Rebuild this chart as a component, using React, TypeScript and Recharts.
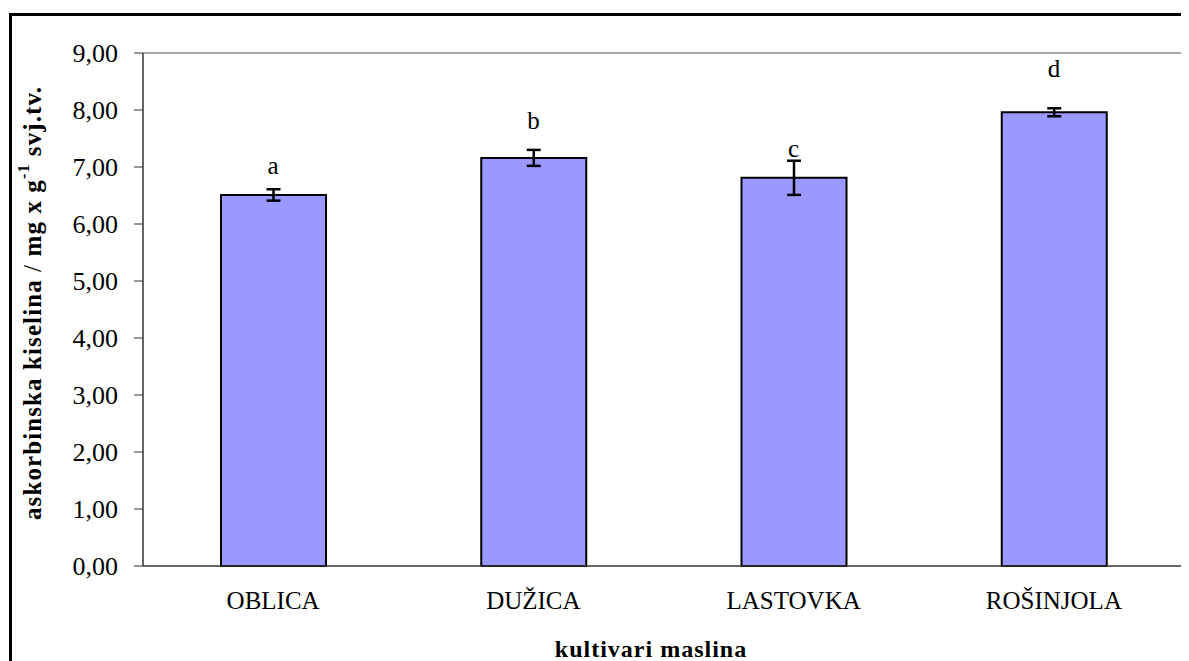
import React from "react";

import {
  Bar,
  ComposedChart,
  ErrorBar,
  LabelList,
  Line,
  ReferenceLine,
  XAxis,
  YAxis,
} from "recharts";

const cultivars = ["OBLICA", "DUŽICA", "LASTOVKA", "ROŠINJOLA"];
const ascorbicAcid = [6.51, 7.16, 6.81, 7.96];
const stdError = [0.1, 0.14, 0.3, 0.07];
const groupLetters = ["a", "b", "c", "d"];
const letterLevels = [7.03, 7.81, 7.32, 8.72];
const yTicks = [0, 1, 2, 3, 4, 5, 6, 7, 8, 9];
const boundaryTicks = [0, 1, 2, 3, 4];

const FONT = '"Liberation Serif", "Times New Roman", serif';

const data = cultivars.map((name, i) => ({
  name,
  value: ascorbicAcid[i],
  err: stdError[i],
  letter: groupLetters[i],
  letterAt: letterLevels[i],
}));

const LetterLabel = (props: any) => (
  <text
    x={props.x}
    y={props.y}
    textAnchor="middle"
    dominantBaseline="central"
    fontFamily={FONT}
    fontSize={25}
    fill="#000"
  >
    {props.value}
  </text>
);

export default function App() {
  return (
    <div
      style={{
        position: "relative",
        width: 1181,
        height: 653,
        overflow: "hidden",
      }}
    >
      <div
        style={{
          position: "absolute",
          left: 1,
          top: 5,
          width: 2000,
          height: 2000,
          borderLeft: "3px solid #000",
          borderTop: "3px solid #000",
        }}
      />
      <div style={{ position: "absolute", left: 0, top: 0 }}>
        <ComposedChart
          width={1181}
          height={653}
          data={data}
          margin={{ top: 45, right: 5, left: 0, bottom: 0 }}
        >
          <XAxis
            xAxisId="bounds"
            type="number"
            domain={[0, 4]}
            ticks={boundaryTicks}
            tick={false}
            tickSize={8}
            tickLine={{ stroke: "#333" }}
            axisLine={false}
            height={0}
          />
          <XAxis
            xAxisId="cat"
            dataKey="name"
            height={95}
            tickLine={false}
            tickSize={0}
            tickMargin={25}
            axisLine={{ stroke: "#333", strokeWidth: 1.5 }}
            tick={{ fontFamily: FONT, fontSize: 25, fill: "#000" }}
            label={{
              content: () => (
                <text
                  x={643}
                  y={641}
                  textAnchor="middle"
                  dominantBaseline="central"
                  fontFamily={FONT}
                  fontSize={24}
                  fontWeight="bold"
                  letterSpacing={1}
                  fill="#000"
                >
                  kultivari maslina
                </text>
              ),
            }}
          />
          <YAxis
            yAxisId="left"
            width={135}
            domain={[0, 9]}
            ticks={yTicks}
            interval={0}
            tickSize={9}
            tickMargin={16}
            tickFormatter={(v: number) => v.toFixed(2).replace(".", ",")}
            tick={{ fontFamily: FONT, fontSize: 26, fill: "#000" }}
            tickLine={{ stroke: "#333" }}
            axisLine={{ stroke: "#333", strokeWidth: 1.5 }}
            label={{
              content: () => (
                <text
                  x={24}
                  y={295}
                  transform="rotate(-90, 24, 295)"
                  textAnchor="middle"
                  dominantBaseline="central"
                  fontFamily={FONT}
                  fontSize={25}
                  fontWeight="bold"
                  letterSpacing={1.1}
                  fill="#000"
                >
                  askorbinska kiselina <tspan fontWeight="normal">/</tspan> mg x g
                  <tspan dy={-9} fontSize={16}>
                    -1
                  </tspan>
                  <tspan dy={9}> svj.tv.</tspan>
                </text>
              ),
            }}
          />
          <YAxis
            yAxisId="right"
            orientation="right"
            width={0}
            domain={[0, 9]}
            tick={false}
            tickLine={false}
            axisLine={{ stroke: "#888", strokeWidth: 1.5 }}
          />
          <ReferenceLine
            yAxisId="left"
            xAxisId="cat"
            y={9}
            stroke="#888"
            strokeWidth={1.5}
          />
          <Bar
            xAxisId="cat"
            yAxisId="left"
            dataKey="value"
            barSize={105}
            fill="#9999FF"
            stroke="#000"
            strokeWidth={2}
            isAnimationActive={false}
          >
            <ErrorBar dataKey="err" width={7} stroke="#000" strokeWidth={2.5} />
          </Bar>
          <Line
            xAxisId="cat"
            yAxisId="left"
            dataKey="letterAt"
            stroke="none"
            dot={false}
            activeDot={false}
            isAnimationActive={false}
          >
            <LabelList dataKey="letter" content={LetterLabel} />
          </Line>
        </ComposedChart>
      </div>
    </div>
  );
}
